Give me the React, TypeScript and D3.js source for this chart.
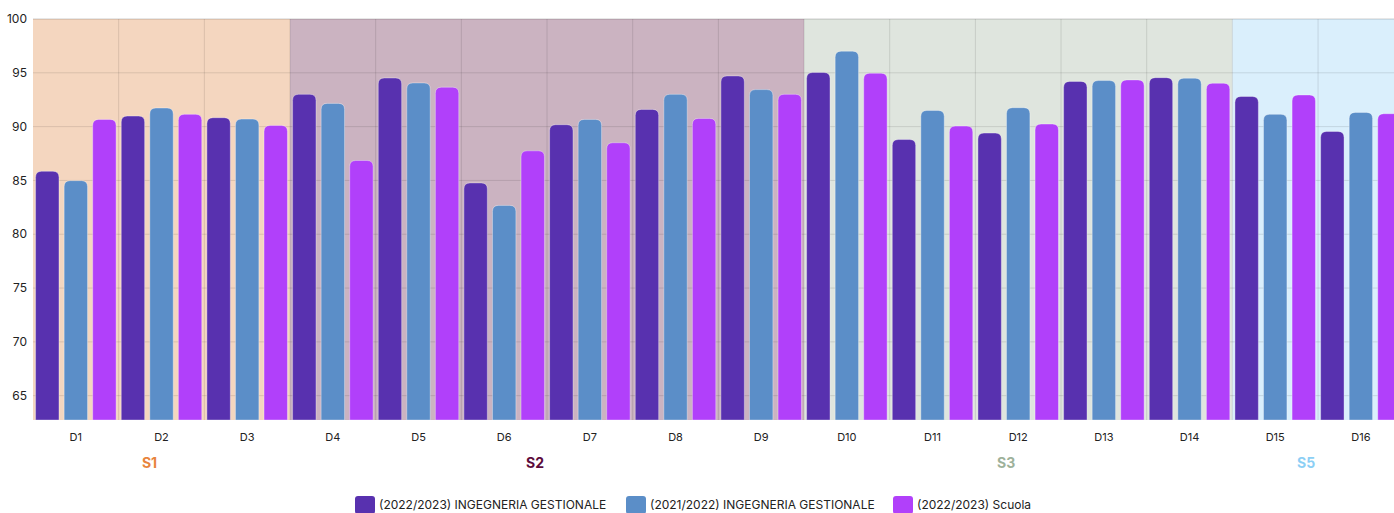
import { useEffect, useRef } from 'react';
import * as d3 from 'd3';

const categories = ['D1', 'D2', 'D3', 'D4', 'D5', 'D6', 'D7', 'D8', 'D9', 'D10', 'D11', 'D12', 'D13', 'D14', 'D15', 'D16'];

const seriesNames = [
  '(2022/2023) INGEGNERIA GESTIONALE',
  '(2021/2022) INGEGNERIA GESTIONALE',
  '(2022/2023) Scuola',
];
const seriesColors = ['#5831AF', '#5B8EC8', '#B140FA'];

const ing2023 = [85.85, 90.98, 90.83, 93.0, 94.52, 84.77, 90.18, 91.6, 94.71, 95.03, 88.8, 89.4, 94.2, 94.55, 92.8, 89.55];
const ing2022 = [84.98, 91.73, 90.7, 92.16, 94.06, 82.68, 90.67, 93.0, 93.44, 97.01, 91.5, 91.76, 94.28, 94.5, 91.14, 91.32];
const scuola2023 = [90.67, 91.14, 90.11, 86.85, 93.66, 87.75, 88.5, 90.76, 93.0, 94.96, 90.05, 90.24, 94.34, 94.03, 92.94, 91.2];

const sections = [
  { name: 'S1', from: 'D1', to: 'D3', bg: '#F4D6BF', color: '#E8843C' },
  { name: 'S2', from: 'D4', to: 'D9', bg: '#CBB3C1', color: '#5C0B3C' },
  { name: 'S3', from: 'D10', to: 'D14', bg: '#DFE5DE', color: '#9DB19A' },
  { name: 'S5', from: 'D15', to: 'D16', bg: '#DAEFFC', color: '#8CCFF5' },
];

const yTicks = [65, 70, 75, 80, 85, 90, 95, 100];

function topRounded(x: number, y: number, w: number, h: number, r: number) {
  const rr = Math.min(r, w / 2, h);
  return `M${x},${y + h}V${y + rr}Q${x},${y} ${x + rr},${y}H${x + w - rr}Q${x + w},${y} ${x + w},${y + rr}V${y + h}Z`;
}

export default function App() {
  const svgRef = useRef<SVGSVGElement>(null);

  useEffect(() => {
    if (!svgRef.current) return;
    const svg = d3.select(svgRef.current);
    svg.selectAll('*').remove();

    const left = 33;
    const top = 19;
    const bottom = 420;
    const step = 85.67;
    const font = 'Inter, "Open Sans", sans-serif';

    const x = d3.scaleBand<string>()
      .domain(categories)
      .range([left, left + step * categories.length])
      .padding(0);

    const xs = d3.scaleBand<string>()
      .domain(seriesNames)
      .range([0, x.bandwidth()])
      .paddingInner(0.18)
      .paddingOuter(0.09);

    const y = d3.scaleLinear().domain([62.74, 100]).range([bottom, top]);

    // section backgrounds
    sections.forEach(s => {
      const x0 = x(s.from)!;
      const x1 = x(s.to)! + x.bandwidth();
      svg.append('rect')
        .attr('x', x0).attr('y', top)
        .attr('width', x1 - x0).attr('height', bottom - top)
        .attr('fill', s.bg);
      svg.append('text')
        .attr('x', (x0 + x1) / 2 - 12)
        .attr('y', 468)
        .attr('text-anchor', 'middle')
        .attr('font-family', font)
        .attr('font-weight', 700)
        .attr('font-size', 14)
        .attr('fill', s.color)
        .text(s.name);
    });

    // top border
    svg.append('line')
      .attr('x1', left).attr('x2', 1394)
      .attr('y1', top).attr('y2', top)
      .attr('stroke', 'rgba(0,0,0,0.08)');

    // grid
    const grid = svg.append('g').attr('stroke', 'rgba(0,0,0,0.11)').attr('stroke-width', 1);
    yTicks.forEach(t => {
      grid.append('line')
        .attr('x1', left).attr('x2', 1394)
        .attr('y1', y(t)).attr('y2', y(t));
    });
    categories.slice(1).forEach(c => {
      grid.append('line')
        .attr('x1', x(c)!).attr('x2', x(c)!)
        .attr('y1', top).attr('y2', bottom);
    });

    // y labels
    svg.append('g').selectAll('text')
      .data(yTicks)
      .join('text')
      .attr('x', 27)
      .attr('y', d => y(d))
      .attr('dy', '0.35em')
      .attr('text-anchor', 'end')
      .attr('font-family', font)
      .attr('font-size', 12)
      .attr('fill', '#222')
      .text(d => d);

    // bars
    const allSeries = [ing2023, ing2022, scuola2023];
    allSeries.forEach((vals, si) => {
      svg.append('g').selectAll('path')
        .data(vals)
        .join('path')
        .attr('d', (v, i) => {
          const bx = x(categories[i])! + xs(seriesNames[si])!;
          return topRounded(bx, y(v), xs.bandwidth(), bottom - y(v), 6);
        })
        .attr('fill', seriesColors[si])
        .attr('stroke', 'rgba(255,255,255,0.35)')
        .attr('stroke-width', 1);
    });

    // x labels
    svg.append('g').selectAll('text')
      .data(categories)
      .join('text')
      .attr('x', d => x(d)! + x.bandwidth() / 2)
      .attr('y', 441)
      .attr('text-anchor', 'middle')
      .attr('font-family', font)
      .attr('font-size', 11)
      .attr('fill', '#222')
      .text(d => d);

    // legend
    const legendX = [355, 626, 893];
    seriesNames.forEach((name, i) => {
      const g = svg.append('g').attr('transform', `translate(${legendX[i]},496)`);
      g.append('rect')
        .attr('width', 20).attr('height', 18).attr('rx', 3)
        .attr('fill', seriesColors[i]);
      g.append('text')
        .attr('x', 24).attr('y', 9)
        .attr('dy', '0.35em')
        .attr('font-family', font)
        .attr('font-size', 12)
        .attr('fill', '#222')
        .text(name);
    });
  }, []);

  return (
    <svg
      ref={svgRef}
      width={1394}
      height={513}
      style={{ position: 'absolute', left: 0, top: 0, background: '#fff' }}
    />
  );
}
